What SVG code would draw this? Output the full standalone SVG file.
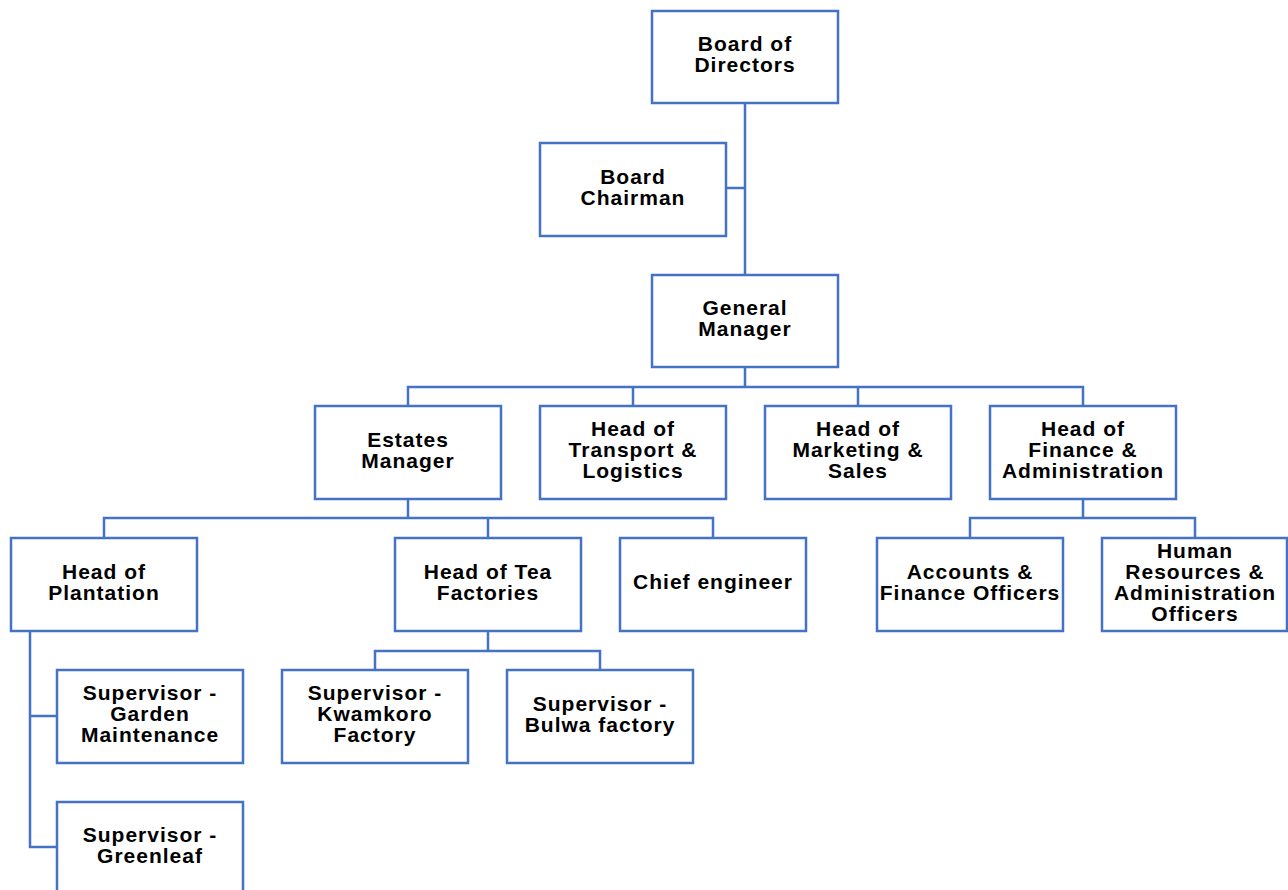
<svg xmlns="http://www.w3.org/2000/svg" width="1288" height="890" viewBox="0 0 1288 890">
<style>
.b{fill:#fff;stroke:#4472C4;stroke-width:2.5}
.c{fill:none;stroke:#4472C4;stroke-width:2.5}
text{font-family:"Liberation Sans",Arial,sans-serif;font-weight:bold;font-size:21px;fill:#000;text-anchor:middle;letter-spacing:1px}
</style>
<rect width="1288" height="890" fill="#fff"/>
<g id="connectors">
<path class="c" d="M745 103V275M726 188H745"/>
<path class="c" d="M745 367V387M408 406V387H1083V406M633 387V406M858 387V406"/>
<path class="c" d="M408 499V518M104 538V518H713V538M488 518V538"/>
<path class="c" d="M1083 499V518M970 538V518H1195V538"/>
<path class="c" d="M488 631V651M375 670V651H600V670"/>
<path class="c" d="M30 631V847H57M30 716H57"/>
</g>
<g id="board"><rect class="b" x="652" y="11" width="186" height="92"/><text x="745" y="50.5">Board of</text><text x="745" y="71.5">Directors</text></g>
<g id="chairman"><rect class="b" x="540" y="143" width="186" height="93"/><text x="633" y="183.5">Board</text><text x="633" y="204.5">Chairman</text></g>
<g id="gm"><rect class="b" x="652" y="275" width="186" height="92"/><text x="745" y="314.5">General</text><text x="745" y="335.5">Manager</text></g>
<g id="estates"><rect class="b" x="315" y="406" width="186" height="93"/><text x="408" y="446.5">Estates</text><text x="408" y="467.5">Manager</text></g>
<g id="transport"><rect class="b" x="540" y="406" width="186" height="93"/><text x="633" y="435.5">Head of</text><text x="633" y="456.5">Transport &amp;</text><text x="633" y="477.5">Logistics</text></g>
<g id="marketing"><rect class="b" x="765" y="406" width="186" height="93"/><text x="858" y="435.5">Head of</text><text x="858" y="456.5">Marketing &amp;</text><text x="858" y="477.5">Sales</text></g>
<g id="finance"><rect class="b" x="990" y="406" width="186" height="93"/><text x="1083" y="435.5">Head of</text><text x="1083" y="456.5">Finance &amp;</text><text x="1083" y="477.5">Administration</text></g>
<g id="plantation"><rect class="b" x="11" y="538" width="186" height="93"/><text x="104" y="578.5">Head of</text><text x="104" y="599.5">Plantation</text></g>
<g id="teafactories"><rect class="b" x="395" y="538" width="186" height="93"/><text x="488" y="578.5">Head of Tea</text><text x="488" y="599.5">Factories</text></g>
<g id="engineer"><rect class="b" x="620" y="538" width="186" height="93"/><text x="713" y="588.5">Chief engineer</text></g>
<g id="accounts"><rect class="b" x="877" y="538" width="186" height="93"/><text x="970" y="578.5">Accounts &amp;</text><text x="970" y="599.5">Finance Officers</text></g>
<g id="hr"><rect class="b" x="1102" y="538" width="185" height="93"/><text x="1195" y="557.5">Human</text><text x="1195" y="578.5">Resources &amp;</text><text x="1195" y="599.5">Administration</text><text x="1195" y="620.5">Officers</text></g>
<g id="garden"><rect class="b" x="57" y="670" width="186" height="93"/><text x="150" y="699.5">Supervisor -</text><text x="150" y="720.5">Garden</text><text x="150" y="741.5">Maintenance</text></g>
<g id="kwamkoro"><rect class="b" x="282" y="670" width="186" height="93"/><text x="375" y="699.5">Supervisor -</text><text x="375" y="720.5">Kwamkoro</text><text x="375" y="741.5">Factory</text></g>
<g id="bulwa"><rect class="b" x="507" y="670" width="186" height="93"/><text x="600" y="710.5">Supervisor -</text><text x="600" y="731.5">Bulwa factory</text></g>
<g id="greenleaf"><rect class="b" x="57" y="802" width="186" height="100"/><text x="150" y="841.5">Supervisor -</text><text x="150" y="862.5">Greenleaf</text></g>
</svg>
